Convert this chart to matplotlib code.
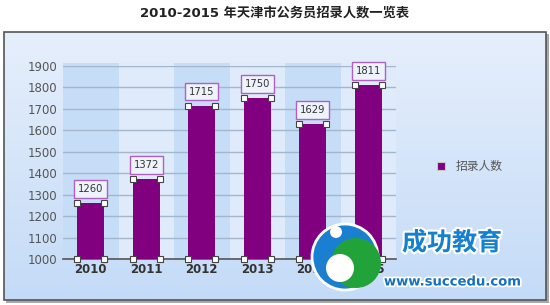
import matplotlib
matplotlib.use("Agg")
import matplotlib.pyplot as plt
import numpy as np
from matplotlib.patches import Rectangle, Circle
import matplotlib.patheffects as pe

plt.rcParams['font.family'] = ['DejaVu Sans', 'Noto Sans CJK SC']

title = "2010-2015 年天津市公务员招录人数一览表"
years = ["2010", "2011", "2012", "2013", "2014", "2015"]
values = [1260, 1372, 1715, 1750, 1629, 1811]
series_name = "招录人数"
yticks = [1000, 1100, 1200, 1300, 1400, 1500, 1600, 1700, 1800, 1900]

W, H = 550, 305
fig = plt.figure(figsize=(W/100, H/100), dpi=100)
fig.patch.set_facecolor('white')

def fx(px): return px / W
def fy(py): return 1 - py / H

# outer frame with gradient
bg = fig.add_axes([0, 0, 1, 1], zorder=0)
bg.set_xlim(0, W); bg.set_ylim(H, 0); bg.axis('off')
grad = np.linspace(0, 1, 256)
c_top = np.array([230, 239, 252]) / 255
c_bot = np.array([196, 219, 247]) / 255
img = (c_top[None, :] + (c_bot - c_top)[None, :] * grad[:, None]).reshape(256, 1, 3)
bg.add_patch(Rectangle((6, 34), 543, 269, facecolor='#a8a8a8', edgecolor='none', zorder=0))
bg.imshow(img, extent=(4, 546, 300, 32), aspect='auto', zorder=1)
bg.add_patch(Rectangle((4, 32), 542, 268, facecolor='none', edgecolor='#555555', lw=1.2, zorder=2))

fig.text(0.5, fy(13), title, ha='center', va='center', fontsize=9.5, fontweight='bold',
         color='#222222', family=['DejaVu Sans', 'Noto Sans CJK SC'])

ax = fig.add_axes([fx(63), fy(259), fx(396) - fx(63), fy(66) - fy(259)], zorder=3)
ax.set_facecolor('none')
x = np.arange(len(years))
ax.set_xlim(-0.5, len(years) - 0.5)
ax.set_ylim(1000, 1900)

for i in x:
    col = '#c6ddf8' if i % 2 == 0 else '#dfebfb'
    ax.add_patch(Rectangle((i - 0.5, 1000), 1, 915, facecolor=col, edgecolor='none',
                           zorder=0, clip_on=False))

ax.set_yticks(yticks)
ax.yaxis.grid(True, color='#a4b6cc', lw=1)
ax.set_axisbelow(True)
for s in ['top', 'right', 'left']:
    ax.spines[s].set_visible(False)
ax.spines['bottom'].set_color('#555555')
ax.spines['bottom'].set_linewidth(1.2)
ax.tick_params(axis='y', length=0, labelsize=8.5, labelcolor='#555555', pad=4)
ax.tick_params(axis='x', length=0, labelsize=8.5, labelcolor='#333333', pad=3)
ax.set_xticks(x)
ax.set_xticklabels(years, fontweight='bold')

bw = 0.49
ax.bar(x, [v - 1000 for v in values], bottom=1000, width=bw, color='#800080',
       edgecolor='none', zorder=3, label=series_name)
for xi, v in zip(x, values):
    xs = [xi - bw/2, xi + bw/2, xi - bw/2, xi + bw/2]
    ys = [v, v, 1000, 1000]
    ax.plot(xs, ys, linestyle='none', marker='s', markersize=4.5, markerfacecolor='white',
            markeredgecolor='#444444', markeredgewidth=0.8, zorder=5, clip_on=False)
    ax.annotate(str(v), (xi, v), xytext=(0, 6.5), textcoords='offset points', ha='center',
                va='bottom', fontsize=7.2, color='#333333', zorder=6, annotation_clip=False,
                bbox=dict(boxstyle='square,pad=0.38', facecolor='#eef3fb', edgecolor='#b060c0', lw=1))

# legend
bg.plot([441], [166], marker='s', markersize=6, color='#800080', markeredgecolor='#c8c8c8',
        markeredgewidth=0.8, zorder=5)
bg.text(456, 166, series_name, ha='left', va='center', fontsize=8.5, color='#555555',
        family=['Noto Sans CJK SC'], zorder=5)

# watermark overlay
wm = fig.add_axes([0, 0, 1, 1], zorder=10)
wm.set_xlim(0, W); wm.set_ylim(H, 0); wm.axis('off'); wm.patch.set_alpha(0)
wm.add_patch(Circle((345, 257), 33, facecolor='#1a7fd0', edgecolor='white', lw=2))
wm.add_patch(Circle((356, 263), 25, facecolor='#22a33a', edgecolor='none'))
wm.add_patch(Circle((340, 268), 14, facecolor='white', edgecolor='none'))
wm.add_patch(Circle((336, 232), 6, facecolor='white', edgecolor='none'))
wm.text(452, 243, "成功教育", ha='center', va='center', fontsize=18, fontweight='bold',
        color='#1580d0', family=['Noto Sans CJK SC'],
        path_effects=[pe.withStroke(linewidth=3, foreground='white')])
wm.text(453, 282, "www.succedu.com", ha='center', va='center', fontsize=9.5, fontweight='bold',
        color='#1570c0', path_effects=[pe.withStroke(linewidth=2.5, foreground='white')])

fig.savefig('out.png', dpi=100)
